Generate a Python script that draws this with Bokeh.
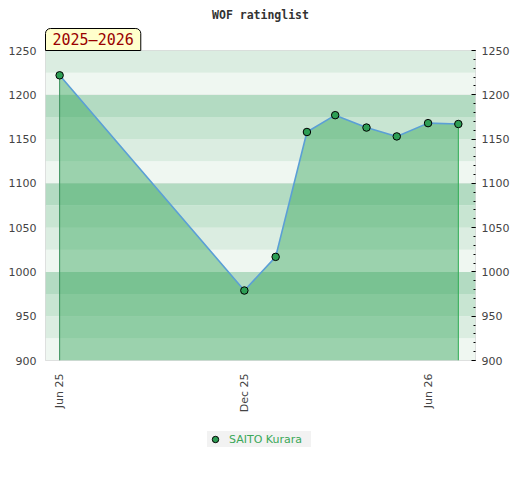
import math
import pandas as pd
from bokeh.plotting import figure
from bokeh.layouts import column
from bokeh.models import (Range1d, FixedTicker, DatetimeTickFormatter, LinearAxis,
                          BoxAnnotation, Title, Legend, LegendItem, ColumnDataSource)
from bokeh.embed import file_html
from bokeh.resources import INLINE

# ---- data ----
title_text = "WOF ratinglist"
season = "2025\u20132026"
player = "SAITO Kurara"
dates = ["2025-06-01", "2025-12-01", "2026-01-01", "2026-02-01", "2026-03-01",
         "2026-04-01", "2026-05-01", "2026-06-01", "2026-07-01"]
ratings = [1222, 979, 1017, 1158, 1177, 1163, 1153, 1168, 1167]
x_tick_dates = ["2025-06-01", "2025-12-01", "2026-06-01"]
y_major = [900, 950, 1000, 1050, 1100, 1150, 1200, 1250]
y_minor = list(range(900, 1251, 10))
band_lo = list(range(900, 1250, 25))
band_palette = ["#eff7f1", "#dbede1", "#c8e5d2", "#b3dbc2"]
x_start, x_end = "2025-05-18", "2026-07-18"
y_start, y_end = 900, 1250

BG = "white"

def ms(d):
    return pd.Timestamp(d).value / 1e6

src = ColumnDataSource(dict(x=pd.to_datetime(dates), y=ratings,
                            base=[y_start] * len(ratings)))

p = figure(width=512, height=420, x_axis_type="datetime",
           x_range=Range1d(ms(x_start), ms(x_end)), y_range=Range1d(y_start, y_end),
           output_backend="svg", toolbar_location=None,
           min_border_left=45, min_border_top=50, min_border_right=36,
           min_border_bottom=60, title=title_text, border_fill_color=BG)
p.title.align = "center"
p.title.text_font = "DejaVu Sans Mono"
p.title.text_font_size = "11.5px"
p.title.text_font_style = "bold"
p.title.text_color = "#333333"
p.title.standoff = 10
p.outline_line_color = "#d9d9d9"
p.background_fill_color = "white"

# bands
for lo in band_lo:
    p.add_layout(BoxAnnotation(bottom=lo, top=lo + 25,
                               fill_color=band_palette[(lo // 25) % 4],
                               fill_alpha=1, line_color=None, level="underlay"))

p.xgrid.visible = False
p.ygrid.ticker = FixedTicker(ticks=[1000, 1100, 1200])
p.ygrid.grid_line_color = "#d6d6d6"
p.ygrid.level = "underlay"

# area
p.varea(x="x", y1="base", y2="y", source=src, fill_color="#2ca353", fill_alpha=0.43)
p.segment(x0=[pd.Timestamp(dates[0])], y0=[y_start],
          x1=[pd.Timestamp(dates[0])], y1=[ratings[0]],
          line_color="#3b8f5c", line_width=1)
p.segment(x0=[pd.Timestamp(dates[-1])], y0=[y_start],
          x1=[pd.Timestamp(dates[-1])], y1=[ratings[-1]],
          line_color="#2eaa52", line_width=1)
p.line(x="x", y="y", source=src, line_color="#5b9fd6", line_width=1.6)
p.scatter(x="x", y="y", source=src, size=7.5, fill_color="#2e9e55",
          line_color="black", line_width=1)

# axes
xa = p.xaxis[0]
xa.ticker = FixedTicker(ticks=[ms(d) for d in x_tick_dates])
xa.formatter = DatetimeTickFormatter(days="%b %y", months="%b %y", years="%b %y")
xa.major_label_orientation = math.pi / 2
xa.axis_line_color = None
xa.major_tick_line_color = None
xa.minor_tick_line_color = None
xa.major_tick_out = 0
xa.major_tick_in = 0
xa.major_label_standoff = 13
xa.major_label_text_font = "DejaVu Sans"
xa.major_label_text_font_size = "11px"
xa.major_label_text_color = "#444444"

ya = p.yaxis[0]
ya.ticker = FixedTicker(ticks=y_major)
ya.axis_line_color = None
ya.major_tick_line_color = None
ya.minor_tick_line_color = None
ya.major_tick_out = 0
ya.major_tick_in = 0
ya.major_label_standoff = 9
ya.major_label_text_font = "DejaVu Sans"
ya.major_label_text_font_size = "11px"
ya.major_label_text_color = "#444444"

ra = LinearAxis(ticker=FixedTicker(ticks=y_major, minor_ticks=y_minor))
ra.axis_line_color = None
ra.major_tick_in = 4
ra.major_tick_out = 0
ra.minor_tick_in = 2
ra.minor_tick_out = 0
ra.major_tick_line_color = "black"
ra.minor_tick_line_color = "black"
ra.major_label_standoff = 6
ra.major_label_text_font = "DejaVu Sans"
ra.major_label_text_font_size = "11px"
ra.major_label_text_color = "#444444"
p.add_layout(ra, "right")

# season label
p.add_layout(Title(text=season, align="left", offset=0, standoff=0,
                   text_font="DejaVu Sans Mono", text_font_size="15px",
                   text_font_style="normal",
                   text_color="#990000", background_fill_color="#ffffcc",
                   border_line_color="black", border_line_width=1,
                   padding=(7, 2), border_radius=(5, 5, 0, 0)), "above")

# legend strip (same series, points fall outside this strip's ranges)
lf = figure(width=512, height=52, x_range=Range1d(0, 1), y_range=Range1d(0, 1),
            output_backend="svg", toolbar_location=None,
            x_axis_location=None, y_axis_location=None,
            min_border=0, border_fill_color=BG, background_fill_color=BG)
lf.outline_line_color = None
lf.grid.visible = False
lr = lf.scatter(x="x", y="y", source=src, size=7.5, fill_color="#2e9e55",
                line_color="black", line_width=1)
legend = Legend(items=[LegendItem(label=player, renderers=[lr])], location=(162, 25),
                orientation="horizontal", background_fill_color="#f2f2f2",
                background_fill_alpha=1, border_line_color=None,
                label_text_color="#3aa857", label_text_font="DejaVu Sans",
                label_text_font_size="11px", glyph_width=16, glyph_height=16,
                label_standoff=6, padding=3, margin=0, label_height=14,
                label_width=82)
lf.add_layout(legend)

layout = column(p, lf, spacing=0)
open("out.html", "w").write(file_html(layout, INLINE))
